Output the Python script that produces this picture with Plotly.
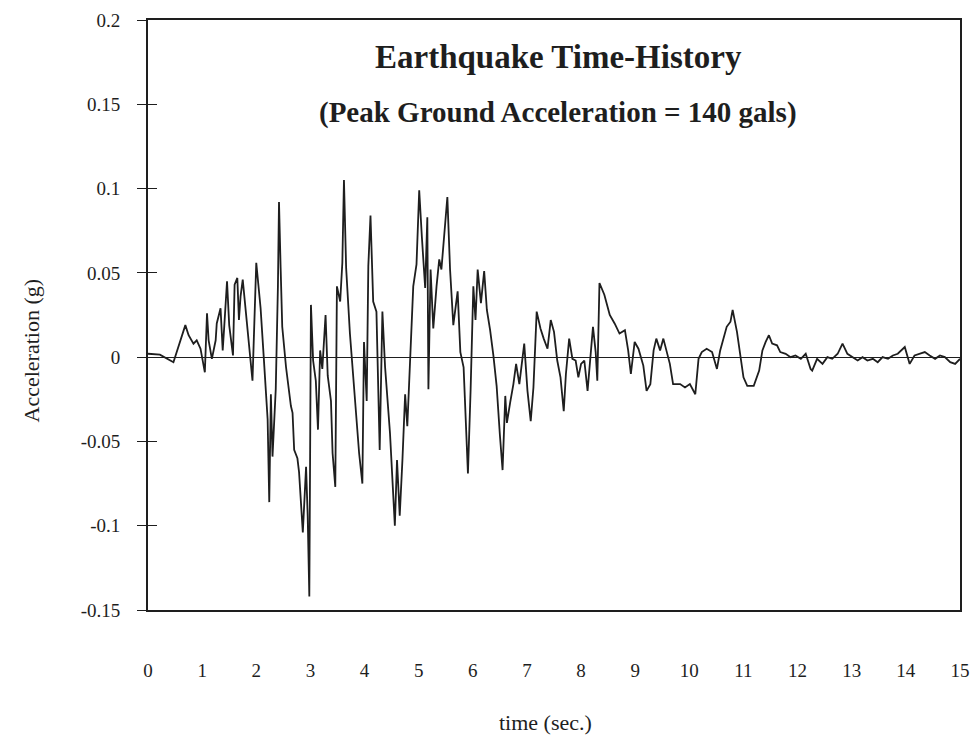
import plotly.graph_objects as go

# time (s) and acceleration (g)
time_s = [0.00, 0.22, 0.47, 0.56, 0.69, 0.75, 0.84, 0.90, 0.97, 1.05,
          1.09, 1.12, 1.18, 1.25, 1.27, 1.34, 1.38, 1.41, 1.46, 1.50,
          1.57, 1.60, 1.65, 1.68, 1.71, 1.75, 1.80, 1.83, 1.87, 1.93,
          2.00, 2.08, 2.14, 2.21, 2.24, 2.27, 2.30, 2.36, 2.40, 2.42,
          2.45, 2.48, 2.55, 2.64, 2.67, 2.70, 2.76, 2.79, 2.86, 2.92,
          2.95, 2.98, 3.01, 3.05, 3.10, 3.14, 3.18, 3.22, 3.28, 3.32,
          3.38, 3.41, 3.46, 3.49, 3.55, 3.59, 3.62, 3.66, 3.73, 3.82,
          3.90, 3.96, 3.99, 4.04, 4.07, 4.11, 4.16, 4.22, 4.28, 4.33,
          4.38, 4.47, 4.56, 4.60, 4.65, 4.70, 4.75, 4.79, 4.84, 4.90,
          4.96, 5.01, 5.06, 5.12, 5.16, 5.18, 5.22, 5.27, 5.33, 5.38,
          5.42, 5.47, 5.53, 5.58, 5.64, 5.72, 5.77, 5.83, 5.91, 5.96,
          6.01, 6.05, 6.09, 6.15, 6.21, 6.26, 6.32, 6.38, 6.44, 6.50,
          6.55, 6.60, 6.63, 6.69, 6.75, 6.80, 6.86, 6.95, 7.01, 7.07,
          7.12, 7.18, 7.25, 7.31, 7.38, 7.44, 7.50, 7.56, 7.62, 7.68,
          7.72, 7.78, 7.84, 7.90, 7.95, 8.00, 8.06, 8.12, 8.17, 8.22,
          8.27, 8.30, 8.34, 8.43, 8.53, 8.62, 8.71, 8.81, 8.87, 8.92,
          8.99, 9.06, 9.15, 9.21, 9.28, 9.34, 9.39, 9.46, 9.52, 9.58,
          9.64, 9.70, 9.83, 9.92, 10.01, 10.11, 10.17, 10.23, 10.32, 10.42,
          10.51, 10.57, 10.63, 10.69, 10.76, 10.80, 10.88, 10.94, 11.00, 11.07,
          11.19, 11.29, 11.35, 11.41, 11.47, 11.53, 11.62, 11.68, 11.78, 11.87,
          11.96, 12.06, 12.15, 12.24, 12.27, 12.36, 12.46, 12.55, 12.64, 12.74,
          12.83, 12.92, 13.02, 13.11, 13.20, 13.29, 13.39, 13.48, 13.57, 13.67,
          13.76, 13.85, 13.98, 14.07, 14.16, 14.26, 14.35, 14.44, 14.54, 14.63,
          14.72, 14.82, 14.91, 15.00]

accel_g = [0.002, 0.0015, -0.003, 0.006, 0.019, 0.013, 0.008, 0.010, 0.005, -0.009,
           0.026, 0.010, -0.001, 0.010, 0.020, 0.029, 0.004, 0.019, 0.045, 0.019,
           0.001, 0.043, 0.047, 0.022, 0.036, 0.046, 0.029, 0.017, 0.002, -0.014,
           0.056, 0.029, -0.001, -0.037, -0.086, -0.022, -0.059, -0.019, 0.042, 0.092,
           0.053, 0.018, -0.006, -0.029, -0.033, -0.055, -0.060, -0.068, -0.104, -0.065,
           -0.094, -0.142, 0.031, -0.002, -0.014, -0.043, 0.004, -0.007, 0.025, -0.011,
           -0.026, -0.057, -0.077, 0.042, 0.033, 0.056, 0.105, 0.053, 0.014, -0.026,
           -0.057, -0.075, 0.009, -0.026, 0.054, 0.084, 0.033, 0.027, -0.055, 0.027,
           -0.006, -0.045, -0.100, -0.061, -0.094, -0.061, -0.022, -0.041, 0.002, 0.042,
           0.055, 0.099, 0.071, 0.041, 0.083, -0.019, 0.052, 0.017, 0.042, 0.058,
           0.052, 0.071, 0.095, 0.052, 0.019, 0.039, 0.003, -0.006, -0.069, -0.019,
           0.042, 0.022, 0.052, 0.032, 0.051, 0.028, 0.016, 0.001, -0.017, -0.046,
           -0.067, -0.023, -0.039, -0.027, -0.016, -0.004, -0.016, 0.008, -0.020, -0.038,
           -0.018, 0.027, 0.017, 0.011, 0.005, 0.022, 0.015, -0.002, -0.012, -0.032,
           -0.010, 0.011, -0.001, -0.002, -0.012, -0.004, -0.002, -0.020, -0.001, 0.018,
           0.003, -0.014, 0.044, 0.037, 0.025, 0.020, 0.014, 0.016, 0.004, -0.010,
           0.009, 0.005, -0.005, -0.020, -0.016, 0.004, 0.011, 0.004, 0.011, 0.004,
           -0.004, -0.016, -0.016, -0.018, -0.016, -0.022, -0.001, 0.003, 0.005, 0.003,
           -0.007, 0.004, 0.011, 0.018, 0.021, 0.028, 0.015, 0.000, -0.012, -0.017,
           -0.017, -0.008, 0.004, 0.009, 0.013, 0.008, 0.007, 0.003, 0.002, 0.000,
           0.001, -0.001, 0.002, -0.007, -0.008, -0.001, -0.004, 0.000, -0.001, 0.002,
           0.008, 0.002, 0.000, -0.002, 0.000, -0.002, -0.001, -0.003, 0.000, -0.001,
           0.001, 0.002, 0.006, -0.004, 0.001, 0.002, 0.003, 0.001, -0.001, 0.001,
           0.000, -0.003, -0.004, -0.001]

x_ticks = list(range(0, 16))
y_ticks = [0.2, 0.15, 0.1, 0.05, 0, -0.05, -0.1, -0.15]
y_tick_text = ["0.2", "0.15", "0.1", "0.05", "0", "-0.05", "-0.1", "-0.15"]

title_text = "<b>Earthquake Time-History</b>"
subtitle_text = "<b>(Peak Ground Acceleration = 140 gals)</b>"

serif = "Liberation Serif"
ink = "#1e1e1e"

fig = go.Figure()
fig.add_trace(go.Scatter(
    x=time_s, y=accel_g, mode="lines",
    line=dict(color=ink, width=1.8),
    hoverinfo="skip", showlegend=False,
))
# invisible trace on overlay axis so inner tick marks render
fig.add_trace(go.Scatter(
    x=[time_s[0]], y=[accel_g[0]], yaxis="y2", mode="lines",
    line=dict(width=0), hoverinfo="skip", showlegend=False,
))

fig.update_layout(
    width=970, height=729,
    margin=dict(l=140, r=18, t=12, b=127),
    paper_bgcolor="white", plot_bgcolor="white",
    font=dict(family=serif, color=ink, size=19),
    xaxis=dict(
        range=[0, 15], tickvals=x_ticks, ticks="", showgrid=False,
        showline=True, linecolor=ink, linewidth=1.8, mirror=True,
        zeroline=False, ticklabelstandoff=42, automargin=False,
        tickfont=dict(family=serif, size=19, color=ink),
    ),
    yaxis=dict(
        range=[-0.15, 0.2], tickvals=y_ticks, ticktext=y_tick_text,
        ticks="outside", ticklen=9, tickwidth=1.4, tickcolor=ink,
        showgrid=False, showline=True, linecolor=ink, linewidth=1.8,
        mirror=True, zeroline=True, zerolinecolor=ink, zerolinewidth=1.1,
        ticklabelstandoff=13, automargin=False,
        tickfont=dict(family=serif, size=19, color=ink),
    ),
    yaxis2=dict(
        range=[-0.15, 0.2], overlaying="y", side="left", tickvals=y_ticks,
        ticks="inside", ticklen=9, tickwidth=1.4, tickcolor=ink,
        showticklabels=False, showgrid=False, showline=False, zeroline=False,
        automargin=False,
    ),
    annotations=[
        dict(text=title_text, xref="paper", yref="paper", x=0.505, y=0.937,
             showarrow=False, xanchor="center", yanchor="middle",
             font=dict(family=serif, size=33, color=ink)),
        dict(text=subtitle_text, xref="paper", yref="paper", x=0.505, y=0.844,
             showarrow=False, xanchor="center", yanchor="middle",
             font=dict(family=serif, size=29, color=ink)),
        dict(text="Acceleration (g)", xref="paper", yref="paper", x=-0.144, y=0.44,
             showarrow=False, textangle=-90, xanchor="center", yanchor="middle",
             font=dict(family=serif, size=22, color=ink)),
        dict(text="time (sec.)", xref="paper", yref="paper", x=0.49, y=-0.19,
             showarrow=False, xanchor="center", yanchor="middle",
             font=dict(family=serif, size=22, color=ink)),
    ],
)

fig.write_html("out.html")
